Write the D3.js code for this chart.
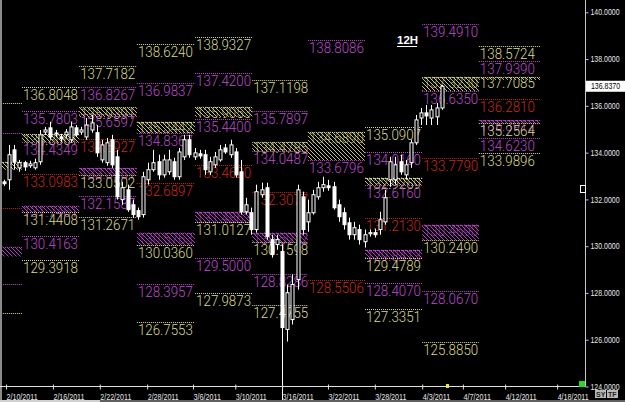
<!DOCTYPE html>
<html><head><meta charset="utf-8">
<script src="https://cdn.jsdelivr.net/npm/d3@7"></script>
<style>
html,body{margin:0;padding:0;background:#000;overflow:hidden;}
svg{display:block;}
</style></head><body>
<script>
// ---------------- DATA ----------------
// 12H candles: [open, high, low, close]
const candles = [
[132.75,132.84,132.58,132.67],[132.84,134.33,132.41,133.91],[134.12,134.33,133.27,133.61],[133.35,133.69,133.18,133.57],
[133.57,133.65,133.22,133.39],[133.44,133.65,133.35,133.52],[133.35,133.74,133.27,133.57],[133.61,134.97,133.48,134.76],
[134.88,135.10,134.76,134.97],[135.06,135.32,134.55,134.67],[134.80,134.97,134.67,134.84],[134.67,134.80,134.46,134.59],
[134.76,135.01,134.63,134.88],[134.55,135.32,134.42,135.10],[135.06,135.18,134.67,134.76],[134.88,135.10,134.76,134.97],
[134.67,135.48,134.55,135.18],[134.97,135.61,134.85,135.27],[134.85,135.18,133.82,133.99],[133.69,134.55,133.57,134.33],
[133.57,134.63,133.44,134.42],[134.55,134.76,133.35,133.48],[133.82,134.12,131.99,132.11],[131.99,132.75,131.77,132.50],
[132.41,132.63,131.47,131.56],[131.77,131.99,131.22,131.35],[131.52,131.65,131.13,131.26],[131.35,133.18,131.22,132.97],
[132.84,133.57,132.63,133.27],[133.27,134.12,133.18,133.57],[133.61,133.91,132.84,133.05],[133.05,133.91,132.93,133.69],
[133.18,134.12,133.05,133.69],[133.61,133.78,132.84,132.97],[132.97,134.20,132.84,134.03],[133.82,134.76,133.69,134.55],
[134.55,134.76,133.78,133.91],[133.82,134.20,133.69,133.99],[133.95,134.12,133.74,133.86],[133.91,134.12,133.05,133.27],
[133.18,133.82,133.05,133.61],[133.48,134.03,133.35,133.82],[133.69,134.33,133.61,134.12],[134.20,134.37,133.95,134.03],
[133.91,134.55,133.78,134.33],[134.03,134.20,132.93,133.05],[133.18,133.69,131.35,131.47],[131.47,132.07,131.35,131.77],
[131.43,131.65,130.49,130.71],[130.71,132.63,130.58,132.33],[132.20,132.71,132.07,132.41],[132.50,132.71,130.28,130.41],
[130.28,130.49,129.51,129.64],[130.07,130.49,129.85,130.28],[129.77,130.07,126.22,126.52],[126.44,128.36,125.92,128.01],
[126.86,128.79,126.65,128.36],[128.57,132.63,128.14,132.41],[132.11,132.33,130.49,130.71],[131.04,131.99,130.62,131.43],
[131.43,132.41,131.35,132.20],[132.11,132.75,131.99,132.50],[132.50,132.97,132.33,132.63],[132.58,132.84,132.37,132.50],
[132.54,132.75,131.56,131.64],[131.77,131.99,131.04,131.26],[131.43,131.65,130.71,130.92],[131.00,131.22,130.28,130.49],
[130.49,131.04,130.28,130.79],[130.71,130.92,130.07,130.28],[130.19,130.71,129.94,130.49],[130.53,130.71,130.41,130.58],
[130.58,130.75,130.37,130.49],[130.71,131.47,130.49,131.13],[131.04,132.41,130.92,132.07],[132.84,133.82,132.54,133.61],
[132.84,133.82,132.63,133.48],[133.61,133.91,133.05,133.18],[133.05,133.69,132.84,133.48],[133.57,134.55,133.35,134.42],
[134.42,135.61,134.33,135.40],[135.48,135.91,135.18,135.70],[135.70,136.04,135.18,135.57],[135.48,136.04,135.18,135.83],
[135.53,136.12,135.18,135.91],[135.91,136.90,135.83,136.837]
];
const lastPrice = 136.837;
const markerBar = 54;           // vertical line bar
// period column boundaries (in bar index units)
const columns = [-7.6, 3.5, 14.6, 25.8, 37.1, 48.2, 59.0, 70.1, 81.2, 92.2, 104.1];
// levels: [column, value, colour key, show label]
const levels = [
[0,136.13,"Y",0],[0,134.85,"M",0],[0,131.64,"R",0],[0,128.40,"M",0],[0,127.16,"Y",0],
[1,136.8048,"Y",1],[1,135.7803,"M",1],[1,134.4349,"M",1],[1,133.0983,"R",1],[1,131.4408,"Y",1],[1,130.4163,"M",1],[1,129.3918,"Y",1],
[2,137.7182,"Y",1],[2,136.8267,"M",1],[2,135.6597,"M",1],[2,134.5927,"R",1],[2,133.0502,"Y",1],[2,132.1587,"M",1],[2,131.2671,"Y",1],
[3,138.6240,"Y",1],[3,136.9837,"M",1],[3,134.8367,"M",1],[3,132.6897,"R",1],[3,130.0360,"Y",1],[3,128.3957,"M",1],[3,126.7553,"Y",1],
[4,138.9327,"Y",1],[4,137.4200,"M",1],[4,135.4400,"M",1],[4,133.4620,"R",1],[4,131.0127,"Y",1],[4,129.5000,"M",1],[4,127.9873,"Y",1],
[5,137.1198,"Y",1],[5,135.7897,"M",1],[5,134.0487,"M",1],[5,132.3077,"R",1],[5,130.1598,"Y",1],[5,128.8286,"M",1],[5,127.4755,"Y",1],
[6,138.8086,"M",1],[6,133.6796,"M",1],[6,128.5506,"R",1],
[7,135.0907,"Y",1],[7,134.0160,"M",1],[7,132.6160,"M",1],[7,131.2130,"R",1],[7,129.4789,"Y",1],[7,128.4070,"M",1],[7,127.3351,"Y",1],
[8,139.4910,"M",1],[8,136.6350,"M",1],[8,133.7790,"R",1],[8,130.2490,"Y",1],[8,128.0670,"M",1],[8,125.8850,"Y",1],
[9,138.5724,"Y",1],[9,137.9390,"M",1],[9,136.2810,"R",1],[9,135.2564,"Y",1],[9,134.6230,"M",1],[9,133.9896,"Y",1]
];
// hatched zones: [column, top, bottom, colour key, text underneath]
const zones = [
[0,133.61,133.27,"Y",""],[0,129.98,129.56,"M",""],
[1,134.80,134.4349,"Y","134.8061"],[1,131.73,131.4408,"M","131.7461"],
[2,135.9391,135.53,"Y","135.9391"],[2,133.35,133.0502,"M","133.3451"],
[3,135.32,134.8367,"Y","135.3442"],[3,130.58,130.0360,"M","130.5763"],
[4,135.96,135.53,"Y","135.9053"],[4,131.47,131.0127,"M","131.4863"],
[5,134.46,134.0487,"Y","134.4785"],[5,130.58,130.1598,"M","130.5912"],
[6,134.89,133.6796,"Y","134.6890"],
[7,132.93,132.6160,"Y","132.9269"],[7,129.85,129.4789,"M","129.8413"],
[8,137.24,136.6350,"Y","137.3230"],[8,130.92,130.2490,"M","130.4690"],
[9,137.24,137.11,"Y","137.7085"],[9,135.40,135.2564,"M","135.3912"]
];
const yTicks = [124,126,128,130,132,134,136,138,140];
const xTickIndex = [0.4, 9.5, 18.6, 27.8, 36.7, 44.9, 54.0, 62.9, 72.0, 81.2, 89.1, 97.3, 107.4];
const xTickLabels = ["2/10/2011","2/16/2011","2/22/2011","2/28/2011","3/6/2011","3/10/2011","3/16/2011","3/22/2011","3/28/2011","4/3/2011","4/7/2011","4/12/2011","4/18/2011"];
const timeframe = "12H";

// ---------------- CHART ----------------
const W = 625, H = 402;
const COLOR = {Y:"#d8d88e", M:"#bc4ccc", R:"#c42a1e"};
const plotRight = 585.5, plotBottom = 386.5;

const svg = d3.select("body").append("svg").attr("width", W).attr("height", H);
svg.append("rect").attr("width", W).attr("height", H).attr("fill", "#000");

const x = d3.scaleLinear().domain([0, 113]).range([4, 586]);
const y = d3.scaleLinear().domain([124, 140]).range([386.5, 12.3]);

const defs = svg.append("defs");
defs.append("clipPath").attr("id", "plot").append("rect")
  .attr("x", 0).attr("y", 0).attr("width", plotRight).attr("height", plotBottom);
["Y", "M"].forEach(k => {
  const p = defs.append("pattern").attr("id", "hatch" + k)
    .attr("patternUnits", "userSpaceOnUse").attr("width", 4).attr("height", 4);
  p.append("path").attr("d", "M-1,-1L5,5M3,-1L5,1M-1,3L1,5")
    .attr("stroke", COLOR[k]).attr("stroke-width", 0.9);
});

const plot = svg.append("g").attr("clip-path", "url(#plot)");

// left gray edge
svg.append("rect").attr("x", 0).attr("y", 0).attr("width", 2).attr("height", H).attr("fill", "#8a8a8a");

const labelFont = "Roboto, 'Liberation Sans', sans-serif";
const labelWeight = 300;

// zones (text underneath, hatch over)
const zg = plot.append("g");
zones.forEach(([c, top, bot, k, txt]) => {
  const x0 = x(columns[c]), x1 = x(columns[c + 1]);
  const y0 = y(top), y1 = y(bot);
  if (txt) {
    zg.append("text").attr("x", x0 + 1).attr("y", y0 + 11.5)
      .attr("fill", COLOR[k]).attr("font-family", labelFont).attr("font-weight", labelWeight).attr("font-size", 15)
      .attr("textLength", 55).attr("lengthAdjust", "spacingAndGlyphs").text(txt);
  }
  zg.append("rect").attr("x", x0).attr("y", y0).attr("width", x1 - x0).attr("height", Math.max(3, y1 - y0))
    .attr("fill", "#000").attr("fill-opacity", 0.35);
  zg.append("rect").attr("x", x0).attr("y", y0).attr("width", x1 - x0).attr("height", Math.max(3, y1 - y0))
    .attr("fill", "url(#hatch" + k + ")");
  zg.append("line").attr("x1", x0).attr("x2", x1).attr("y1", Math.round(y0) + 0.5).attr("y2", Math.round(y0) + 0.5)
    .attr("stroke", COLOR[k]).attr("stroke-dasharray", "1,1");
});

// level lines + labels
const lg = plot.append("g");
levels.forEach(([c, v, k, show]) => {
  const x0 = x(columns[c]), x1 = x(columns[c + 1]);
  const yy = Math.round(y(v)) + 0.5;
  lg.append("line").attr("x1", x0).attr("x2", x1).attr("y1", yy).attr("y2", yy)
    .attr("stroke", COLOR[k]).attr("stroke-dasharray", "1,1");
  if (show) {
    lg.append("text").attr("x", x0 + 1).attr("y", yy + 12.5)
      .attr("fill", COLOR[k]).attr("font-family", labelFont).attr("font-weight", labelWeight).attr("font-size", 15)
      .attr("textLength", 55).attr("lengthAdjust", "spacingAndGlyphs")
      .text(v.toFixed(4));
  }
});

// vertical marker line
plot.append("line").attr("x1", Math.round(x(markerBar)) + 0.5).attr("x2", Math.round(x(markerBar)) + 0.5)
  .attr("y1", y(candles[markerBar][1])).attr("y2", H).attr("stroke", "#fff");
svg.append("line").attr("x1", Math.round(x(markerBar)) + 0.5).attr("x2", Math.round(x(markerBar)) + 0.5)
  .attr("y1", plotBottom).attr("y2", H).attr("stroke", "#fff");

// candles
const cg = plot.append("g");
const bars = cg.selectAll("g.c").data(candles).join("g").attr("class", "c");
bars.append("line")
  .attr("x1", (d, i) => Math.round(x(i)) + 0.5).attr("x2", (d, i) => Math.round(x(i)) + 0.5)
  .attr("y1", d => y(d[1])).attr("y2", d => y(d[2])).attr("stroke", "#fff");
bars.append("rect")
  .attr("x", (d, i) => Math.round(x(i)) - 1)
  .attr("y", d => y(Math.max(d[0], d[3])))
  .attr("width", 3)
  .attr("height", d => Math.max(1, Math.abs(y(d[0]) - y(d[3]))))
  .attr("fill", d => d[3] >= d[0] ? "#000" : "#fff")
  .attr("stroke", "#fff").attr("stroke-width", 1);

// axes
const axisFont = "'Liberation Sans', Arial, sans-serif";
const axR = svg.append("g").attr("transform", `translate(${plotRight},0)`)
  .call(d3.axisRight(y).tickValues(yTicks).tickSize(3).tickPadding(2).tickFormat(d => d.toFixed(4)));
axR.select(".domain").attr("stroke", "#c8c8c8").attr("d", `M0,0V${plotBottom}`);
axR.selectAll(".tick line").attr("stroke", "#c8c8c8");
axR.selectAll(".tick text").attr("fill", "#e8e8e8").attr("font-family", axisFont)
  .attr("font-size", 8.2).attr("textLength", 29).attr("lengthAdjust", "spacingAndGlyphs");

const axB = svg.append("g").attr("transform", `translate(0,${plotBottom})`)
  .call(d3.axisBottom(x).tickValues(xTickIndex).tickSize(3).tickFormat((d, i) => xTickLabels[i]));
axB.select(".domain").attr("stroke", "#e0e0e0").attr("d", `M0,0H${plotRight}`);
axB.selectAll(".tick line").attr("stroke", "#e0e0e0").attr("y1", -2).attr("y2", 3);
axB.selectAll(".tick text").attr("fill", "#e8e8e8").attr("font-family", axisFont)
  .attr("font-size", 8.5).attr("text-anchor", "start").attr("dx", 0).attr("dy", 0).attr("y", 13)
  .attr("textLength", (d, i) => xTickLabels[i].length * 3.45).attr("lengthAdjust", "spacingAndGlyphs");

// current price box
const py = y(lastPrice);
svg.append("rect").attr("x", plotRight + 0.5).attr("y", py - 5.5).attr("width", W - plotRight).attr("height", 11)
  .attr("fill", "#fff");
svg.append("text").attr("x", 591).attr("y", py + 3.2).attr("fill", "#000")
  .attr("font-family", axisFont).attr("font-size", 8.2)
  .attr("textLength", 29).attr("lengthAdjust", "spacingAndGlyphs").text(lastPrice.toFixed(4));

// small box on axis
svg.append("rect").attr("x", 580.5).attr("y", 185.5).attr("width", 5).attr("height", 7)
  .attr("fill", "#000").attr("stroke", "#fff");

// timeframe title
svg.append("text").attr("x", 397).attr("y", 44).attr("fill", "#fff")
  .attr("font-family", axisFont).attr("font-weight", "bold")
  .attr("font-size", 11.5).text(timeframe);
svg.append("line").attr("x1", 397).attr("x2", 417).attr("y1", 46.5).attr("y2", 46.5).attr("stroke", "#fff");

// green marker and yellow bar marker
svg.append("rect").attr("x", 579).attr("y", 381).attr("width", 6).attr("height", 6).attr("fill", "#22dd22");
svg.append("rect").attr("x", Math.round(x(candles.length)) - 1).attr("y", 384).attr("width", 3).attr("height", 4).attr("fill", "#e8e840");

// bottom strip + SY/TF buttons
svg.append("rect").attr("x", 0).attr("y", 400).attr("width", W).attr("height", 2).attr("fill", "#606060");
svg.append("rect").attr("x", 0).attr("y", 400).attr("width", 100).attr("height", 2).attr("fill", "#d0d0d0");
[["SY", 595], ["TF", 607]].forEach(([t, bx]) => {
  svg.append("rect").attr("x", bx).attr("y", 390).attr("width", 11).attr("height", 8).attr("fill", "#b8b8b8");
  svg.append("text").attr("x", bx + 1).attr("y", 397).attr("fill", "#222")
    .attr("font-family", axisFont).attr("font-size", 7).attr("font-weight", "bold").text(t);
});
</script>
</body></html>
